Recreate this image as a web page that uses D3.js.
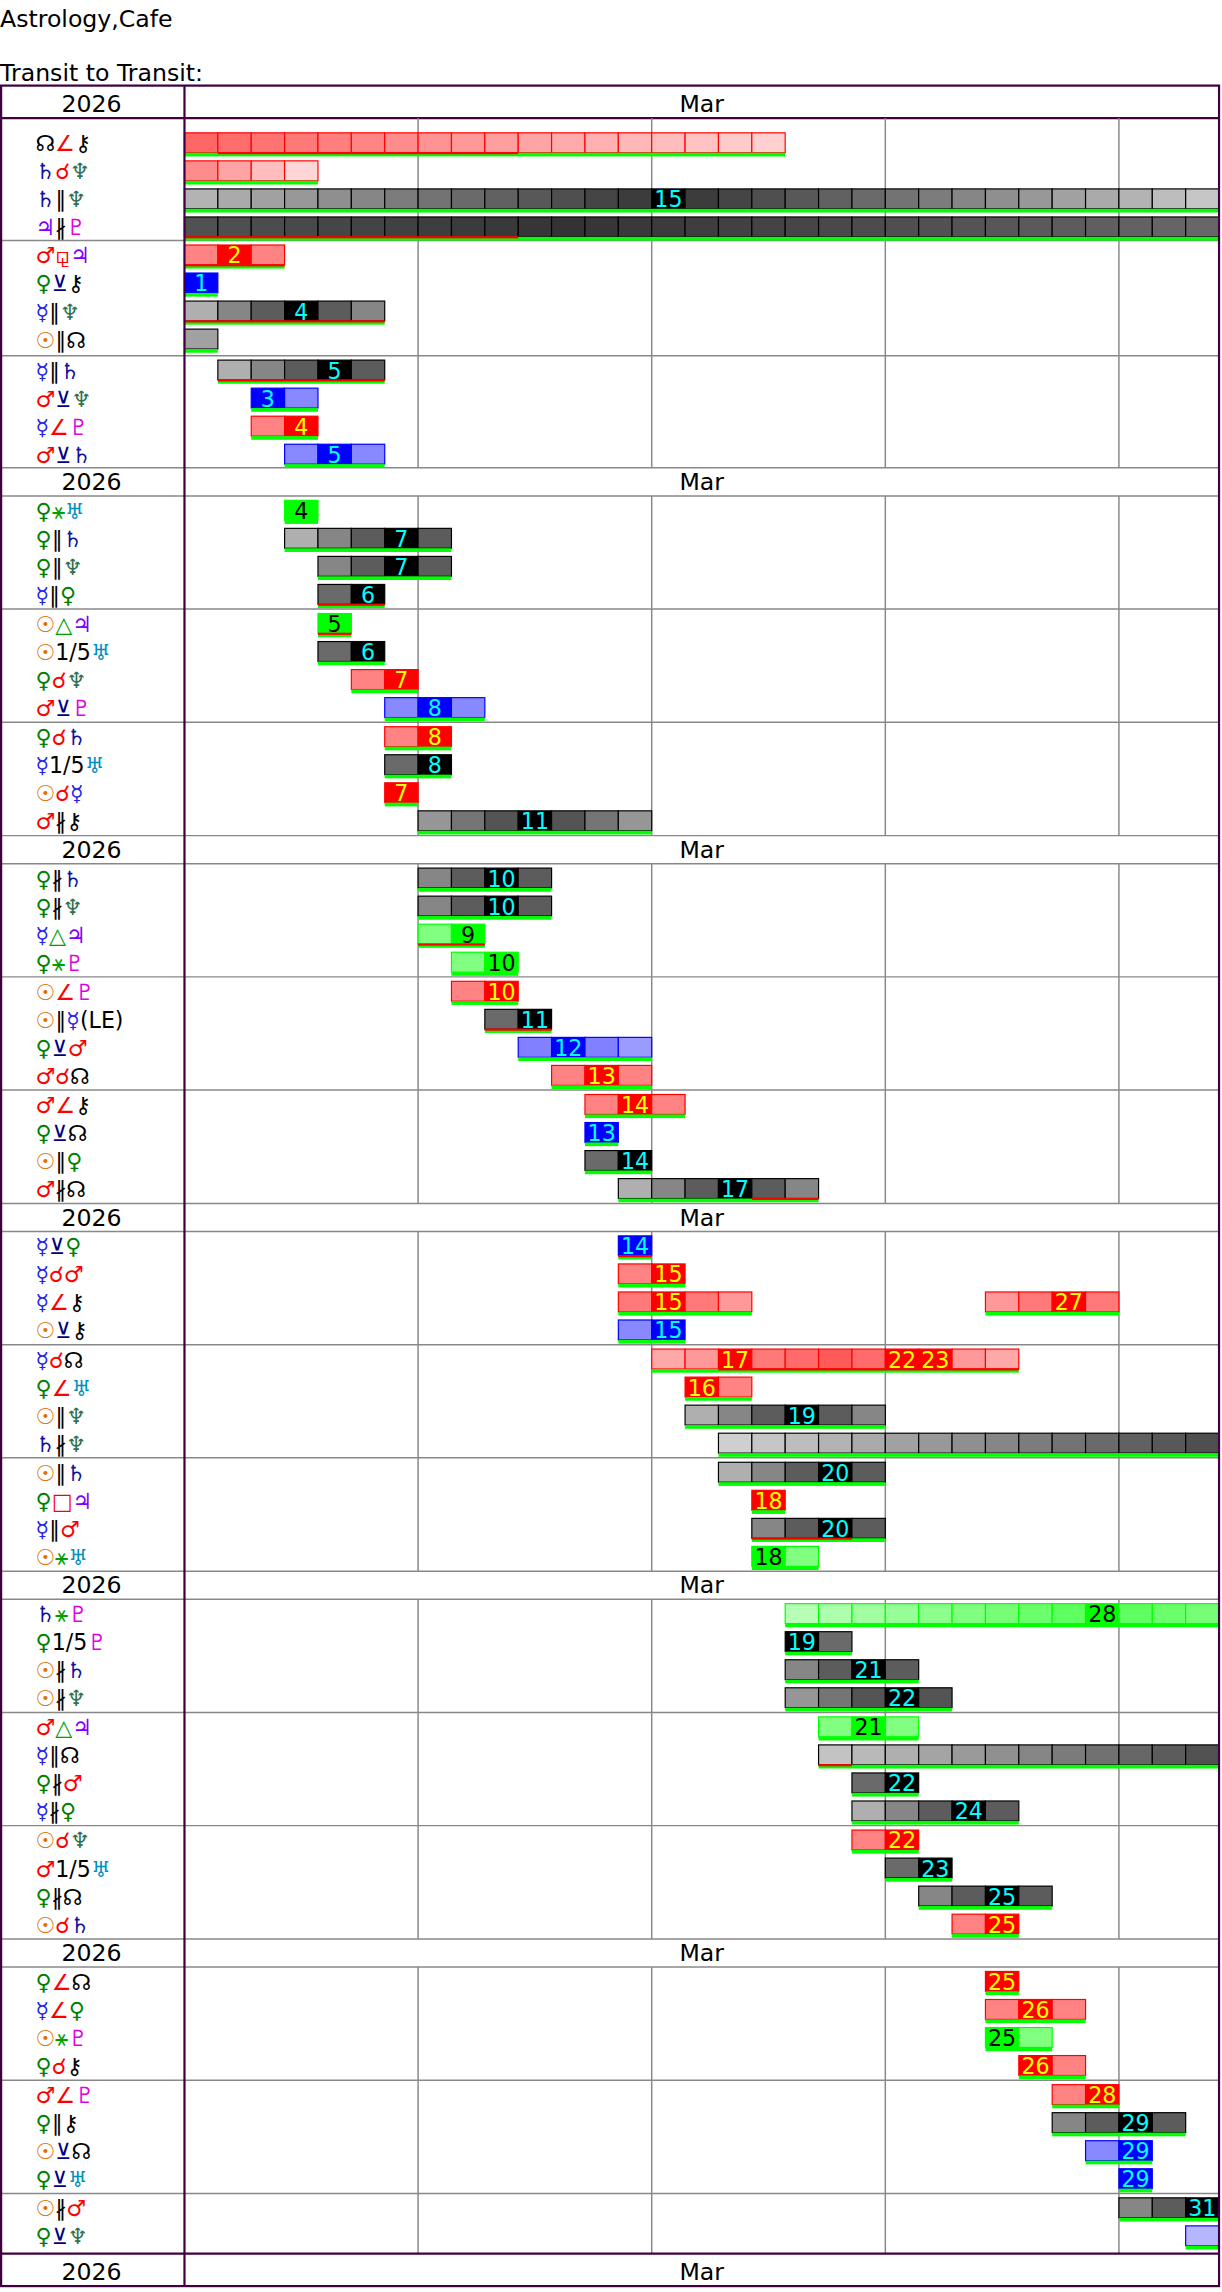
<!DOCTYPE html>
<html><head><meta charset="utf-8">
<script src="https://cdn.jsdelivr.net/npm/d3@7"></script>
<style>body{margin:0;background:#fff}</style>
</head><body><div id="chart"></div>
<script>
// row names (transit pairs)
const rowNames = [
  "☊∠⚷","♄☌♆","♄∥♆","♃∦♇",
  "♂⚼♃","♀⊻⚷","☿∥♆","☉∥☊",
  "☿∥♄","♂⊻♆","☿∠♇","♂⊻♄",
  "♀⚹♅","♀∥♄","♀∥♆","☿∥♀",
  "☉△♃","☉1/5♅","♀☌♆","♂⊻♇",
  "♀☌♄","☿1/5♅","☉☌☿","♂∦⚷",
  "♀∦♄","♀∦♆","☿△♃","♀⚹♇",
  "☉∠♇","☉∥☿(LE)","♀⊻♂","♂☌☊",
  "♂∠⚷","♀⊻☊","☉∥♀","♂∦☊",
  "☿⊻♀","☿☌♂","☿∠⚷","☉⊻⚷",
  "☿☌☊","♀∠♅","☉∥♆","♄∦♆",
  "☉∥♄","♀□♃","☿∥♂","☉⚹♅",
  "♄⚹♇","♀1/5♇","☉∦♄","☉∦♆",
  "♂△♃","☿∥☊","♀∦♂","☿∦♀",
  "☉☌♆","♂1/5♅","♀∦☊","☉☌♄",
  "♀∠☊","☿∠♀","☉⚹♇","♀☌⚷",
  "♂∠♇","♀∥⚷","☉⊻☊","♀⊻♅",
  "☉∦♂","♀⊻♆"
];
// bars: row, type, first day, last day, labelled peak days, shade centre, shade spread
const barRow   = [0,1,2,3,4,5,6,7,8,9,10,11,12,13,14,15,16,17,18,19,20,21,22,23,24,25,26,27,28,29,30,31,32,33,34,35,36,37,38,38,39,40,41,42,43,44,45,46,47,48,49,50,51,52,53,54,55,56,57,58,59,60,61,62,63,64,65,66,67,68,69];
const barType  = ["r","r","g","g","r","b","g","g","g","b","r","b","n","g","g","g","n","g","r","b","r","g","r","g","g","g","n","n","r","g","b","r","r","b","g","g","b","r","r","r","b","r","r","g","g","g","r","g","n","n","g","g","g","n","g","g","g","r","g","g","r","r","r","n","r","r","g","b","b","g","b"];
const barStart = [1,1,1,1,1,1,1,1,2,3,3,4,4,4,5,5,5,5,6,7,7,7,7,8,8,8,8,9,9,10,11,12,13,13,13,14,14,14,14,25,14,15,16,16,17,17,18,18,18,19,19,19,19,20,20,21,21,21,22,23,24,25,25,25,26,27,27,28,29,29,31];
const barEnd   = [18,4,31,31,3,1,6,1,6,4,4,6,4,8,8,6,5,6,7,9,8,8,7,14,11,11,9,10,10,11,14,14,15,13,14,19,14,15,17,28,15,25,17,21,31,21,18,21,19,31,20,22,23,22,31,22,25,22,23,26,25,25,27,26,27,28,30,29,29,31,31];
const barPeaks = [[],[],[15],[],[2],[1],[4],[],[5],[3],[4],[5],[4],[7],[7],[6],[5],[6],[7],[8],[8],[8],[7],[11],[10],[10],[9],[10],[10],[11],[12],[13],[14],[13],[14],[17],[14],[15],[15],[27],[15],[17,22,23],[16],[19],[],[20],[18],[20],[18],[28],[19],[21],[22],[21],[],[22],[24],[22],[23],[25],[25],[25],[26],[25],[26],[28],[29],[29],[29],[31],[]];
const shadeC   = [-1,-1,15,12,2,1,4,-3,5,3,4,5,4,7,7,6,5,6,7,8,8,8,7,11,10,10,9,10,10,11,12,13,14,13,14,17,14,15,15,27,15,20,16,19,34,20,18,20,18,28,19,21,22,21,34,22,24,22,23,25,25,25,26,25,26,28,29,29,29,31,34];
const shadeW   = [20,5,18,60,3,2,4,6,4,3,3,3,2,4,4,3,2,3,3,3,3,3,2,5,4,4,3,3,3,3,4,3,3,2,3,4,2,3,4,4,3,8,3,4,18,4,2,4,3,12,3,4,5,3,16,3,4,3,3,4,3,2,3,3,3,3,4,3,2,4,4];
// red underline spans, keyed by bar index
const redUL    = {0:[2,10],3:[1,10],4:[1,3],6:[1,6],8:[2,6],15:[5,6],16:[5,5],26:[8,9],29:[10,11],35:[18,19],36:[14,14],41:[17,25],47:[18,20],54:[20,20]};

const glyphColor = {"☉":"#e07000","☿":"#2222ee","♀":"#008000","♂":"#ff0000","♃":"#8000ff","♄":"#1010a0",
  "♅":"#0090c0","♆":"#307050","♇":"#e000e0","☊":"#000","⚷":"#000","∠":"#ff0000","☌":"#ff0000","⚼":"#ff0000",
  "□":"#ff0000","⊻":"#000080","∥":"#000","∦":"#000","⚹":"#00a000","△":"#00a000"};
const pal = {
  g:{lo:"#d8d8d8",hi:"#333333",peak:"#000",edge:"#000",txt:"#00ffff"},
  r:{lo:"#ffd6d6",hi:"#ff5a5a",peak:"#ff0000",edge:"#ff0000",txt:"#ffff00"},
  b:{lo:"#d0d0ff",hi:"#6666ff",peak:"#0000ff",edge:"#0000ff",txt:"#00ffff"},
  n:{lo:"#d8ffd8",hi:"#55ff55",peak:"#00ff00",edge:"#00ff00",txt:"#000"}
};

const W = 828, H = 1553, left = 125, right = 826;
const svg = d3.select("#chart").append("svg")
  .attr("width", 1222).attr("height", 2292).attr("viewBox", `0 0 ${W} ${H}`)
  .style("font-family", "DejaVu Sans");
const x = d3.scaleLinear().domain([1, 32]).range([left, right]);

function blockTop(b) { return b === 0 ? 58 : 317 + (b - 1) * 249.2; }
function rowY(i) {
  const b = Math.floor(i / 12), g = Math.floor((i % 12) / 4), r = i % 4;
  let gt;
  if (b === 0) gt = g === 0 ? 80 : 163 + (g - 1) * 78;
  else gt = blockTop(b) + 19 + g * 76.7;
  return gt + (b === 0 && g === 0 ? 17 : 10) + 19 * r;
}
const nBlocks = Math.ceil(rowNames.length / 12);
const footTop = 1527, bottom = 1549;

svg.append("text").attr("x", 0).attr("y", 18).attr("font-size", 16).text("Astrology,Cafe");
svg.append("text").attr("x", 0).attr("y", 55).attr("font-size", 16).text("Transit to Transit:");

// headers
const heads = d3.range(nBlocks).map(blockTop).concat([footTop]);
heads.forEach((t, k) => {
  const hh = k === 0 || k === nBlocks ? 22 : 19;
  svg.append("text").attr("x", 62).attr("y", t + hh - 4).attr("text-anchor", "middle").attr("font-size", 16).text("2026");
  svg.append("text").attr("x", (left + right) / 2).attr("y", t + hh - 4).attr("text-anchor", "middle").attr("font-size", 16).text("Mar");
  const lineCol = (k === 0 || k === nBlocks) ? "#400040" : "#888";
  if (k > 0) svg.append("line").attr("x1", 0).attr("x2", right).attr("y1", t).attr("y2", t).attr("stroke", lineCol).attr("stroke-width", k === nBlocks ? 1.5 : 1);
  svg.append("line").attr("x1", 0).attr("x2", right).attr("y1", t + hh).attr("y2", t + hh).attr("stroke", k === 0 ? "#400040" : "#888").attr("stroke-width", k === 0 ? 1.5 : 1);
  if (k < nBlocks) {
    const end = heads[k + 1];
    [8, 15, 22, 29].forEach(d => svg.append("line").attr("x1", x(d)).attr("x2", x(d))
      .attr("y1", t + hh).attr("y2", end).attr("stroke", "#888"));
    for (let g = 1; g < 3; g++) {
      const ri = k * 12 + g * 4;
      if (ri < rowNames.length) {
        const yy = k === 0 ? 163 + (g - 1) * 78 : t + 19 + g * 76.7;
        svg.append("line").attr("x1", 0).attr("x2", right).attr("y1", yy).attr("y2", yy).attr("stroke", "#888");
      }
    }
  }
});

// row labels
rowNames.forEach((name, i) => {
  const t = svg.append("text").attr("x", 24).attr("y", rowY(i) + 5.5).attr("font-size", 15);
  Array.from(name).forEach(ch => t.append("tspan").attr("fill", glyphColor[ch] || "#000").text(ch));
});

// bars
barRow.forEach((ri, k) => {
  const cy = rowY(ri), p = pal[barType[k]];
  const col = d3.interpolateRgb(p.lo, p.hi);
  const g = svg.append("g");
  const days = d3.range(barStart[k], barEnd[k] + 1);
  g.selectAll("rect.cell").data(days).join("rect")
    .attr("x", d => x(d)).attr("y", cy - 7).attr("width", x(2) - x(1)).attr("height", 13.5)
    .attr("fill", d => barPeaks[k].includes(d) ? p.peak
      : col(Math.max(0, 1 - Math.abs(d - shadeC[k]) / shadeW[k])))
    .attr("stroke", p.edge).attr("stroke-width", 0.8);
  g.append("rect").attr("x", x(barStart[k])).attr("y", cy + 6.5)
    .attr("width", x(barEnd[k] + 1) - x(barStart[k])).attr("height", 2.5).attr("fill", "#00ff00");
  const ru = redUL[k];
  if (ru) g.append("rect").attr("x", x(ru[0])).attr("y", cy + 6)
    .attr("width", x(ru[1] + 1) - x(ru[0])).attr("height", 1.5).attr("fill", "#ff0000");
  barPeaks[k].forEach(d => g.append("text").attr("x", x(d + 0.5)).attr("y", cy + 5.5)
    .attr("text-anchor", "middle").attr("font-size", 15).attr("fill", p.txt).text(d));
});

// frame
svg.append("rect").attr("x", 0.75).attr("y", 58).attr("width", right - 0.75).attr("height", bottom - 58)
  .attr("fill", "none").attr("stroke", "#400040").attr("stroke-width", 1.5);
svg.append("line").attr("x1", left).attr("x2", left).attr("y1", 58).attr("y2", bottom)
  .attr("stroke", "#400040").attr("stroke-width", 1.5);
</script></body></html>
